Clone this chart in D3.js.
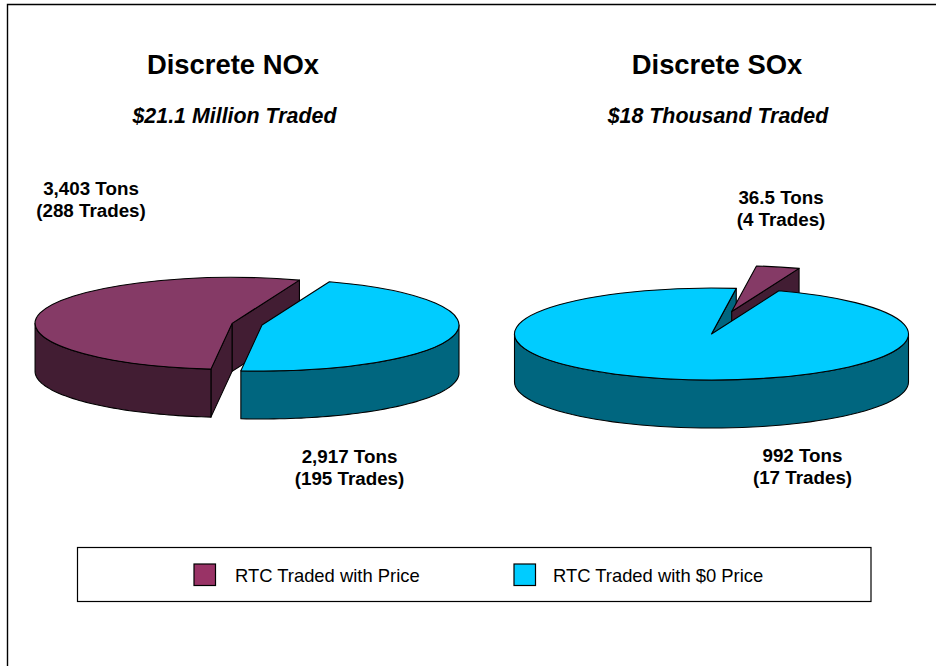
<!DOCTYPE html>
<html>
<head>
<meta charset="utf-8">
<script src="https://d3js.org/d3.v7.min.js"></script>
<style>
html,body{margin:0;padding:0;background:#fff;overflow:hidden}
svg{display:block}
text{font-family:"Liberation Sans",Arial,sans-serif;fill:#000}
</style>
</head>
<body>
<svg id="chart" width="936" height="666"></svg>
<script>
// ---- data ----
const seriesNames = ["RTC Traded with $0 Price", "RTC Traded with Price"];
const noxTons = [2917, 3403];
const soxTons = [992, 36.5];
const noxLabels = [["2,917 Tons", "(195 Trades)"], ["3,403 Tons", "(288 Trades)"]];
const soxLabels = [["992 Tons", "(17 Trades)"], ["36.5 Tons", "(4 Trades)"]];
const pieTitles = ["Discrete NOx", "Discrete SOx"];
const pieSubtitles = ["$21.1 Million Traded", "$18 Thousand Traded"];

// ---- styles and layout ----
const topColors = ["#00ccff", "#853a66"];
const wallColors = ["#00667f", "#421d33"];
const swatchColors = ["#00ccff", "#993366"];
const RX = 197, RY = 46, DEPTH = 48;
const START = 20 * Math.PI / 180;
const layouts = [
  {values: noxTons, labels: noxLabels, cx: 262, cy: 325, explode: [0, 0.156], nudge: [0, 0],
   titleX: 233, subX: 234.5, labelPos: [[349.5, 462.5], [91, 194.5]]},
  {values: soxTons, labels: soxLabels, cx: 711.5, cy: 334, explode: [0, 0.47], nudge: [-1.6, -1.4],
   titleX: 717, subX: 718, labelPos: [[802.5, 461.5], [781, 203.5]]}
];

const svg = d3.select("#chart");
const pie = d3.pie().sort(null).value(d => d).startAngle(START).endAngle(START + 2 * Math.PI);
const arcGen = d3.arc().innerRadius(0).outerRadius(RX);
const lineGen = d3.line();

// frame: left and top only
const frame = d3.path();
frame.moveTo(7.5, 666); frame.lineTo(7.5, 4.5); frame.lineTo(936, 4.5);
svg.append("path").attr("d", frame.toString()).attr("fill", "none").attr("stroke", "#000").attr("stroke-width", 1.4);

function rim(a, o) { return [o.x + RX * Math.sin(a), o.y - RY * Math.cos(a)]; }

function drawRadial(g, a, o, i) {
  const p = rim(a, o);
  const poly = [[o.x, o.y], p, [p[0], p[1] + DEPTH], [o.x, o.y + DEPTH]];
  g.append("path").attr("d", lineGen(poly) + "Z").attr("fill", wallColors[i])
    .attr("stroke", "#000").attr("stroke-width", 1.1).attr("stroke-linejoin", "round");
}
function drawOuter(g, s, o, i) {
  // visible rim is the front half of the ellipse (90deg to 270deg), in both unwrapped turns
  [[Math.PI / 2, 3 * Math.PI / 2], [5 * Math.PI / 2, 7 * Math.PI / 2]].forEach(([lo, hi]) => {
    const a0 = Math.max(s.startAngle, lo), a1 = Math.min(s.endAngle, hi);
    if (a1 <= a0) return;
    const angles = d3.range(61).map(k => a0 + (a1 - a0) * k / 60);
    const upper = angles.map(a => rim(a, o));
    const lower = upper.map(p => [p[0], p[1] + DEPTH]).reverse();
    g.append("path").attr("d", lineGen(upper.concat(lower)) + "Z").attr("fill", wallColors[i])
      .attr("stroke", "#000").attr("stroke-width", 1.1).attr("stroke-linejoin", "round");
  });
}
function drawTop(g, s, o, i) {
  g.append("path").attr("d", arcGen(s))
    .attr("transform", `translate(${o.x},${o.y}) scale(1,${RY / RX})`)
    .attr("vector-effect", "non-scaling-stroke")
    .attr("fill", topColors[i]).attr("stroke", "#000").attr("stroke-width", 1.1)
    .attr("stroke-linejoin", "round");
}
// a cut face shows only when its outward normal points towards the viewer
function startFaceVisible(s) { return Math.sin(s.startAngle) < 0; }
function endFaceVisible(s) { return Math.sin(s.endAngle) > 0; }

layouts.forEach((L, n) => {
  const g = svg.append("g");
  const slices = pie(L.values);
  const origins = slices.map((s, i) => {
    const mid = (s.startAngle + s.endAngle) / 2, e = L.explode[i];
    const shift = e > 0 ? L.nudge : [0, 0];
    return {x: L.cx + RX * e * Math.sin(mid) + shift[0], y: L.cy - RY * e * Math.cos(mid) + shift[1]};
  });
  // back to front: radial cut of the base slice, exploded slice, then base slice
  const base = 0, moved = 1;
  if (endFaceVisible(slices[base])) drawRadial(g, slices[base].endAngle, origins[base], base);
  if (startFaceVisible(slices[base])) drawRadial(g, slices[base].startAngle, origins[base], base);
  if (endFaceVisible(slices[moved])) drawRadial(g, slices[moved].endAngle, origins[moved], moved);
  if (startFaceVisible(slices[moved])) drawRadial(g, slices[moved].startAngle, origins[moved], moved);
  drawOuter(g, slices[moved], origins[moved], moved);
  drawTop(g, slices[moved], origins[moved], moved);
  drawOuter(g, slices[base], origins[base], base);
  drawTop(g, slices[base], origins[base], base);

  svg.append("text").attr("x", L.titleX).attr("y", 74).attr("text-anchor", "middle")
    .attr("font-size", 27.4).attr("font-weight", "bold").text(pieTitles[n]);
  svg.append("text").attr("x", L.subX).attr("y", 123).attr("text-anchor", "middle")
    .attr("font-size", 21.4).attr("font-weight", "bold").attr("font-style", "italic").text(pieSubtitles[n]);
  L.labels.forEach((lines, i) => {
    lines.forEach((t, k) => {
      svg.append("text").attr("x", L.labelPos[i][0]).attr("y", L.labelPos[i][1] + k * 22)
        .attr("text-anchor", "middle").attr("font-size", 18.8).attr("font-weight", "bold").text(t);
    });
  });
});

// legend
svg.append("rect").attr("x", 77.5).attr("y", 547.5).attr("width", 793.5).attr("height", 54)
  .attr("fill", "#fff").attr("stroke", "#000").attr("stroke-width", 1.2);
const legendOrder = [1, 0];
const legendX = d3.scaleOrdinal().domain(legendOrder).range([194, 514]);
const legendTextX = d3.scaleOrdinal().domain(legendOrder).range([235, 553]);
legendOrder.forEach(i => {
  svg.append("rect").attr("x", legendX(i)).attr("y", 564).attr("width", 21.5).attr("height", 21.5)
    .attr("fill", swatchColors[i]).attr("stroke", "#000").attr("stroke-width", 1.2);
  svg.append("text").attr("x", legendTextX(i)).attr("y", 581.5).attr("font-size", 18.4).text(seriesNames[i]);
});
</script>
</body>
</html>
